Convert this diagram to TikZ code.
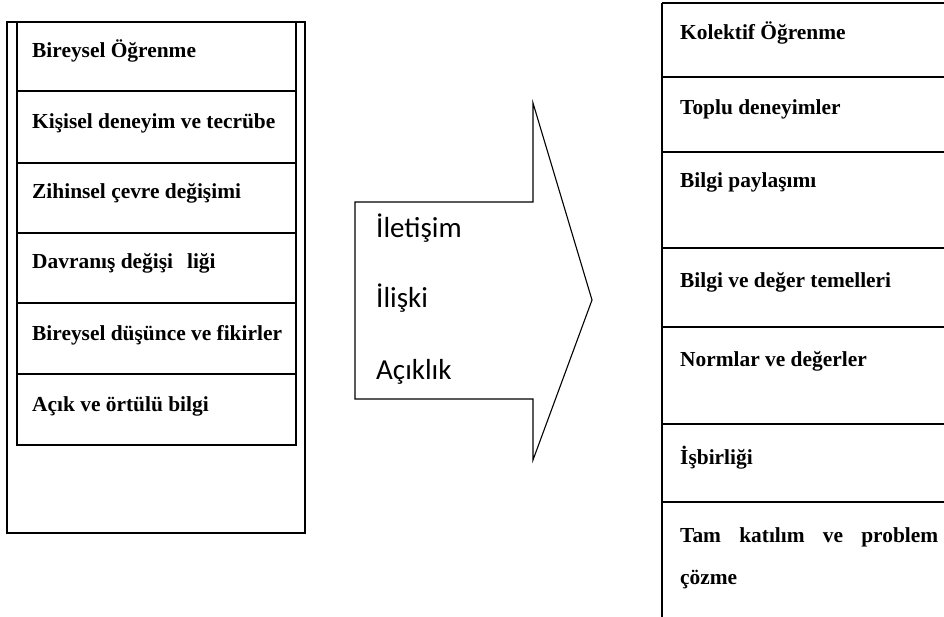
\documentclass[tikz,border=0pt]{standalone}
\usepackage{fontspec}
\setmainfont{Liberation Serif}
\newfontfamily\calib{Carlito}
\begin{document}
\begin{tikzpicture}[x=1pt,y=-1pt,
  boxline/.style={line width=1.8pt},
  lbl/.style={anchor=base west, inner sep=0pt, font=\fontsize{21.4}{25}\selectfont\bfseries},
  arrlbl/.style={anchor=base west, inner sep=0pt, font=\calib\fontsize{29}{34}\selectfont},
  arrshape/.style={line width=1.1pt, line join=miter}]
\useasboundingbox (0,0) rectangle (944,617);
% left column
\draw[boxline] (7,22) rectangle (305,533);
\draw[boxline] (17,22) rectangle (296,445);
\foreach \yy in {91,163,233,303,374} \draw[boxline] (17,\yy) -- (296,\yy);
\node[lbl] (l1) at (32,58) {Bireysel Öğrenme};
\node[lbl] (l2) at (32,128.5) {Kişisel deneyim ve tecrübe};
\node[lbl] (l3) at (32,199) {Zihinsel çevre değişimi};
\node[lbl] (l4) at (32,269) {Davranış değişi\hspace{14pt}liği};
\node[lbl] (l5) at (32,340) {Bireysel düşünce ve fikirler};
\node[lbl] (l6) at (32,411) {Açık ve örtülü bilgi};
% arrow
\draw[arrshape] (355,202) -- (533,202) -- (533,103) -- (592,300) -- (533,460) -- (533,399) -- (355,399) -- cycle;
\node[arrlbl] (a1) at (376,238) {İletişim};
\node[arrlbl] (a2) at (376,308) {İlişki};
\node[arrlbl] (a3) at (376,379) {Açıklık};
% right column
\draw[boxline] (662,3) -- (662,617);
\foreach \yy in {3,77,152,248,327,424,502} \draw[boxline] (662,\yy) -- (944,\yy);
\node[lbl] (r1) at (680,40) {Kolektif Öğrenme};
\node[lbl] (r2) at (680,115) {Toplu deneyimler};
\node[lbl] (r3) at (680,188) {Bilgi paylaşımı};
\node[lbl] (r4) at (680,288) {Bilgi ve değer temelleri};
\node[lbl] (r5) at (680,366) {Normlar ve değerler};
\node[lbl] (r6) at (680,464) {İşbirliği};
\node[lbl] (r7) at (680,542) {\makebox[258pt][s]{Tam katılım ve problem}};
\node[lbl] (r8) at (680,584) {çözme};
\end{tikzpicture}
\end{document}
